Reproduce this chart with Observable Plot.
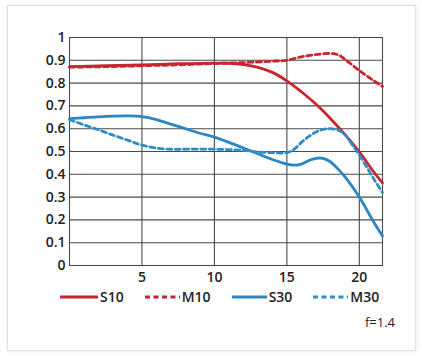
<!DOCTYPE html>
<html>
<head>
<meta charset="utf-8">
<script src="https://cdn.jsdelivr.net/npm/d3@7"></script>
<script src="https://cdn.jsdelivr.net/npm/@observablehq/plot@0.6"></script>
<style>
  body { margin: 0; background: #fff; width: 422px; height: 356px; overflow: hidden; position: relative; font-family: "Open Sans", sans-serif; }
  #card { position: absolute; left: 7px; top: 5px; width: 407px; height: 344px; border: 1px solid #e2e2e2; box-shadow: 0 0 3px rgba(0,0,0,0.12); background: #fff; }
  #chart { position: absolute; left: 0; top: 0; }
  #legend { position: absolute; left: 60px; top: 287px; display: flex; align-items: center; font-size: 14px; font-weight: 600; color: #222; }
  .item { display: flex; align-items: center; margin-right: 21px; }
  .item svg { margin-right: 2px; }
  #note { position: absolute; right: 27px; top: 313px; font-size: 13px; color: #222; }
</style>
</head>
<body>
<div id="card"></div>
<div id="chart"></div>
<div id="legend"></div>
<div id="note">f=1.4</div>
<script>
// Series data (x = image height mm, y = MTF)
const s10X = [0, 2.5, 5, 7.5, 10, 11, 12, 13, 14, 15, 16, 17, 18, 19, 20, 21, 21.6];
const s10Y = [0.872, 0.876, 0.88, 0.885, 0.888, 0.887, 0.881, 0.869, 0.847, 0.81, 0.762, 0.708, 0.645, 0.575, 0.498, 0.41, 0.362];

const m10X = [0, 2.5, 5, 7.5, 10, 12, 14, 15, 16, 17, 18, 18.5, 19, 20, 21, 21.6];
const m10Y = [0.87, 0.872, 0.876, 0.88, 0.886, 0.89, 0.896, 0.9, 0.915, 0.925, 0.93, 0.925, 0.905, 0.855, 0.81, 0.785];

const s30X = [0, 1, 2, 3, 4, 5, 6, 7, 8, 9, 10, 11, 12, 13, 14, 15, 15.5, 16, 16.5, 17, 17.5, 18, 18.5, 19, 20, 21, 21.6];
const s30Y = [0.644, 0.648, 0.652, 0.655, 0.656, 0.653, 0.64, 0.62, 0.6, 0.58, 0.563, 0.54, 0.515, 0.49, 0.465, 0.445, 0.44, 0.445, 0.46, 0.47, 0.47, 0.455, 0.425, 0.39, 0.3, 0.19, 0.13];

const m30X = [0, 1, 2, 3, 4, 5, 6, 7, 8, 10, 12, 13, 14, 15, 15.5, 16, 16.5, 17, 17.5, 18, 18.5, 19, 19.5, 20, 21, 21.6];
const m30Y = [0.64, 0.617, 0.595, 0.572, 0.55, 0.528, 0.515, 0.51, 0.51, 0.51, 0.505, 0.498, 0.495, 0.495, 0.51, 0.54, 0.565, 0.585, 0.597, 0.6, 0.595, 0.575, 0.53, 0.485, 0.38, 0.32];

const seriesNames = ["S10", "M10", "S30", "M30"];
const seriesColors = ["#c6262f", "#c6262f", "#2a87c4", "#2f8cc8"];
const seriesDashed = [false, true, false, true];

const xTicks = [5, 10, 15, 20];
const yTicks = [0, 0.1, 0.2, 0.3, 0.4, 0.5, 0.6, 0.7, 0.8, 0.9, 1];
const xMax = 21.6;

const toRows = (xs, ys, name) => xs.map((x, i) => ({x, y: ys[i], name}));
const allX = [s10X, m10X, s30X, m30X];
const allY = [s10Y, m10Y, s30Y, m30Y];

const lineMarks = seriesNames.map((name, i) =>
  Plot.line(toRows(allX[i], allY[i], name), {
    x: "x", y: "y",
    stroke: seriesColors[i],
    strokeWidth: 2.8,
    strokeDasharray: seriesDashed[i] ? "5,3.5" : null,
    curve: "catmull-rom"
  })
);

const chart = Plot.plot({
  width: 422,
  height: 296,
  marginLeft: 69,
  marginRight: 40,
  marginTop: 37,
  marginBottom: 31,
  x: {domain: [0, xMax]},
  y: {domain: [0, 1]},
  style: {fontFamily: "Open Sans, sans-serif", fontSize: "14px", fontWeight: 600, color: "#222", background: "transparent"},
  marks: [
    Plot.ruleY(yTicks, {stroke: "#4a4a4a", strokeWidth: 1.1}),
    Plot.ruleX(xTicks, {stroke: "#4a4a4a", strokeWidth: 1.1}),
    Plot.frame({stroke: "#4a4a4a", strokeWidth: 1.1}),
    ...lineMarks,
    Plot.axisX(xTicks, {tickSize: 0, tickPadding: 7, label: null, fontSize: 14, fontWeight: 600}),
    Plot.axisY(yTicks, {tickSize: 0, tickPadding: 4, label: null, fontSize: 14, fontWeight: 600,
      tickFormat: d => (d === 0 ? "0" : d === 1 ? "1" : d.toFixed(1))})
  ]
});
document.getElementById("chart").appendChild(chart);

// Legend
const legend = document.getElementById("legend");
seriesNames.forEach((name, i) => {
  const item = document.createElement("div");
  item.className = "item";
  const w = i === 0 ? 38 : 35;
  item.innerHTML = `<svg width="${w}" height="8"><line x1="0" x2="${w}" y1="4" y2="4" stroke="${seriesColors[i]}" stroke-width="3" ${seriesDashed[i] ? 'stroke-dasharray="5,3.5"' : ''}/></svg><span>${name}</span>`;
  legend.appendChild(item);
});
</script>
</body>
</html>
